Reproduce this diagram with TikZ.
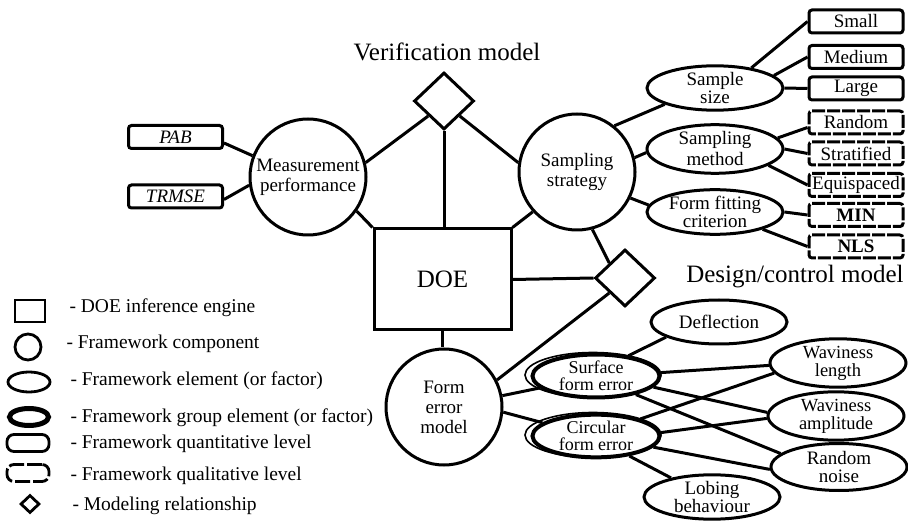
\documentclass[tikz,border=0pt]{standalone}
\usepackage{fontspec}
\setmainfont{Liberation Serif}
\usetikzlibrary{shapes.geometric}

\begin{document}
\begin{tikzpicture}[x=1pt,y=-1pt,
  conn/.style={line width=3pt},
  comp/.style={circle,draw,line width=3pt,minimum size=116pt,inner sep=0pt,align=center,font=\fontsize{19}{20}\selectfont},
  elem/.style={ellipse,draw,line width=3pt,minimum width=136pt,minimum height=44pt,inner sep=0pt,align=center,font=\fontsize{19}{18}\selectfont},
  grp/.style={ellipse,draw,line width=4pt,minimum width=127pt,minimum height=39pt,inner sep=0pt,align=center,font=\fontsize{18}{17.5}\selectfont},
  ring/.style={line width=1.6pt},
  quant/.style={rectangle,rounded corners=3pt,draw,line width=3pt,minimum width=94pt,minimum height=23pt,inner sep=0pt,font=\fontsize{19}{20}\selectfont},
  qual/.style={quant,dash pattern=on 13pt off 2pt},
  rel/.style={diamond,draw,line width=3pt,inner sep=0pt,minimum width=60pt,minimum height=57pt},
  engine/.style={rectangle,draw,line width=3pt,minimum width=137pt,minimum height=101pt,font=\fontsize{25}{25}\selectfont},
  heading/.style={anchor=base,font=\fontsize{25}{25}\selectfont},
  legtext/.style={anchor=base west,font=\fontsize{19.5}{19.5}\selectfont},
  legsym/.style={draw,line width=2.8pt,inner sep=0pt},
]
\useasboundingbox[fill=white] (0,0) rectangle (908,521);

% model headings
\node[heading] (vtitle) at (447,61) {Verification model};
\node[heading] (dtitle) at (795,283) {Design/control model};

% core components
\node[rel] (vd) at (444,101) {};
\node[comp] (meas) at (308,177) {Measurement\\performance};
\node[comp] (samp) at (577,172) {Sampling\\strategy};
\node[engine] (doe) at (442.5,279.5) {DOE};
\node[rel] (dd) at (625,278) {};
\node[comp] (fem) at (444,407) {Form\\error\\model};

% measurement performance levels
\node[quant,font=\fontsize{19}{20}\selectfont\itshape] (pab) at (175.5,137) {PAB};
\node[quant,font=\fontsize{19}{20}\selectfont\itshape] (trmse) at (175.5,196.5) {TRMSE};

% sampling strategy elements
\node[elem] (ss) at (715,88) {Sample\\size};
\node[elem,font=\fontsize{19}{21}\selectfont] (sm) at (715,149) {Sampling\\method};
\node[elem] (ff) at (715,212) {Form fitting\\criterion};

\node[quant] (small) at (856,21.5) {Small};
\node[quant] (medium) at (856,57) {Medium};
\node[quant] (large) at (856,88.5) {Large};
\node[qual] (random) at (856,122.5) {Random};
\node[qual] (strat) at (856,153.5) {Stratified};
\node[qual] (equi) at (856,185) {Equispaced};
\node[qual,font=\fontsize{19}{20}\selectfont\bfseries] (min) at (856,215) {MIN};
\node[qual,font=\fontsize{19}{20}\selectfont\bfseries] (nls) at (856,246.5) {NLS};

% form error elements
\node[grp] (sfe) at (596,376) {Surface\\form error};
\draw[ring] (593,375) ellipse [x radius=68pt, y radius=22.5pt];
\node[grp] (cfe) at (596,436) {Circular\\form error};
\draw[ring] (593,435) ellipse [x radius=68pt, y radius=22.5pt];

\node[elem] (defl) at (719,322) {Deflection};
\node[elem,minimum height=47pt,font=\fontsize{18.5}{18}\selectfont] (wl) at (838,363) {Waviness\\length};
\node[elem,minimum height=47pt,font=\fontsize{18.5}{18}\selectfont] (wa) at (836,416) {Waviness\\amplitude};
\node[elem,minimum height=47pt] (rn) at (839,467) {Random\\noise};
\node[elem] (lob) at (712,497) {Lobing\\behaviour};

% connectors
\draw[conn] ([yshift=-6pt]pab.east) -- (meas.159);
\draw[conn] ([yshift=-3pt]trmse.east) -- (meas.188);
\draw[conn] (meas.14) -- (vd.south west);
\draw[conn] (meas.-35) -- (doe.north west);
\draw[conn] (vd.south) -- (vd.south |- doe.north);
\draw[conn] (vd.south east) -- (samp.171);
\draw[conn] (doe.north east) -- (samp.222);
\draw[conn] (samp.51) -- (ss.198);
\draw[conn] (samp.14) -- (sm.183);
\draw[conn] (samp.-26) -- (ff.174);
\draw[conn] (samp.-75) -- (dd.north west);
\draw[conn] (doe.east) -- (dd.west);
\draw[conn] (dd.south west) -- (fem.27);
\draw[conn] (doe.south) -- (doe.south |- fem.north);

\draw[conn] (ss.29) -- (small.west);
\draw[conn] (ss.12) -- (medium.west);
\draw[conn] (ss.0) -- (large.west);
\draw[conn] (sm.10) -- ([yshift=-5pt]random.west);
\draw[conn] (sm.0) -- (strat.west);
\draw[conn] (sm.-17) -- (equi.west);
\draw[conn] (ff.0) -- (min.west);
\draw[conn] (ff.-20) -- (nls.west);

\draw[conn] (fem.11) -- (sfe.192);
\draw[conn] (fem.-5) -- (cfe.166);
\draw[conn] (sfe.32) -- (defl.196);
\draw[conn] (sfe.3) -- (wl.182);
\draw[conn] (sfe.-11) -- (wa.177);
\draw[conn] (sfe.-25) -- (rn.167);
\draw[conn] (cfe.21) -- (wl.189);
\draw[conn] (cfe.3) -- (wa.182);
\draw[conn] (cfe.-11) -- (rn.182);
\draw[conn] (cfe.-31) -- (lob.155);

% legend
\node[legsym,rectangle,minimum width=30pt,minimum height=22pt] (lgeng) at (30,311) {};
\node[legsym,circle,minimum size=26pt] (lgcomp) at (28,347) {};
\node[legsym,ellipse,minimum width=42pt,minimum height=20pt] (lgelem) at (29,382) {};
\node[legsym,ellipse,line width=5pt,minimum width=39pt,minimum height=17pt] (lggrp) at (29,417) {};
\node[legsym,rectangle,rounded corners=7pt,minimum width=42pt,minimum height=17pt] (lgquant) at (28,443) {};
\node[legsym,rectangle,rounded corners=7pt,dash pattern=on 15pt off 3pt,minimum width=42pt,minimum height=17pt] (lgqual) at (28,473) {};
\node[legsym,diamond,minimum width=19pt,minimum height=18pt] (lgrel) at (30,504) {};

\node[legtext] (lt1) at (66,313) {- DOE inference engine};
\node[legtext] (lt2) at (63,349) {- Framework component};
\node[legtext] (lt3) at (67,385) {- Framework element (or factor)};
\node[legtext] (lt4) at (67,422) {- Framework group element (or factor)};
\node[legtext] (lt5) at (67,448) {- Framework quantitative level};
\node[legtext] (lt6) at (67,480) {- Framework qualitative level};
\node[legtext] (lt7) at (69,510) {- Modeling relationship};
\end{tikzpicture}
\end{document}
